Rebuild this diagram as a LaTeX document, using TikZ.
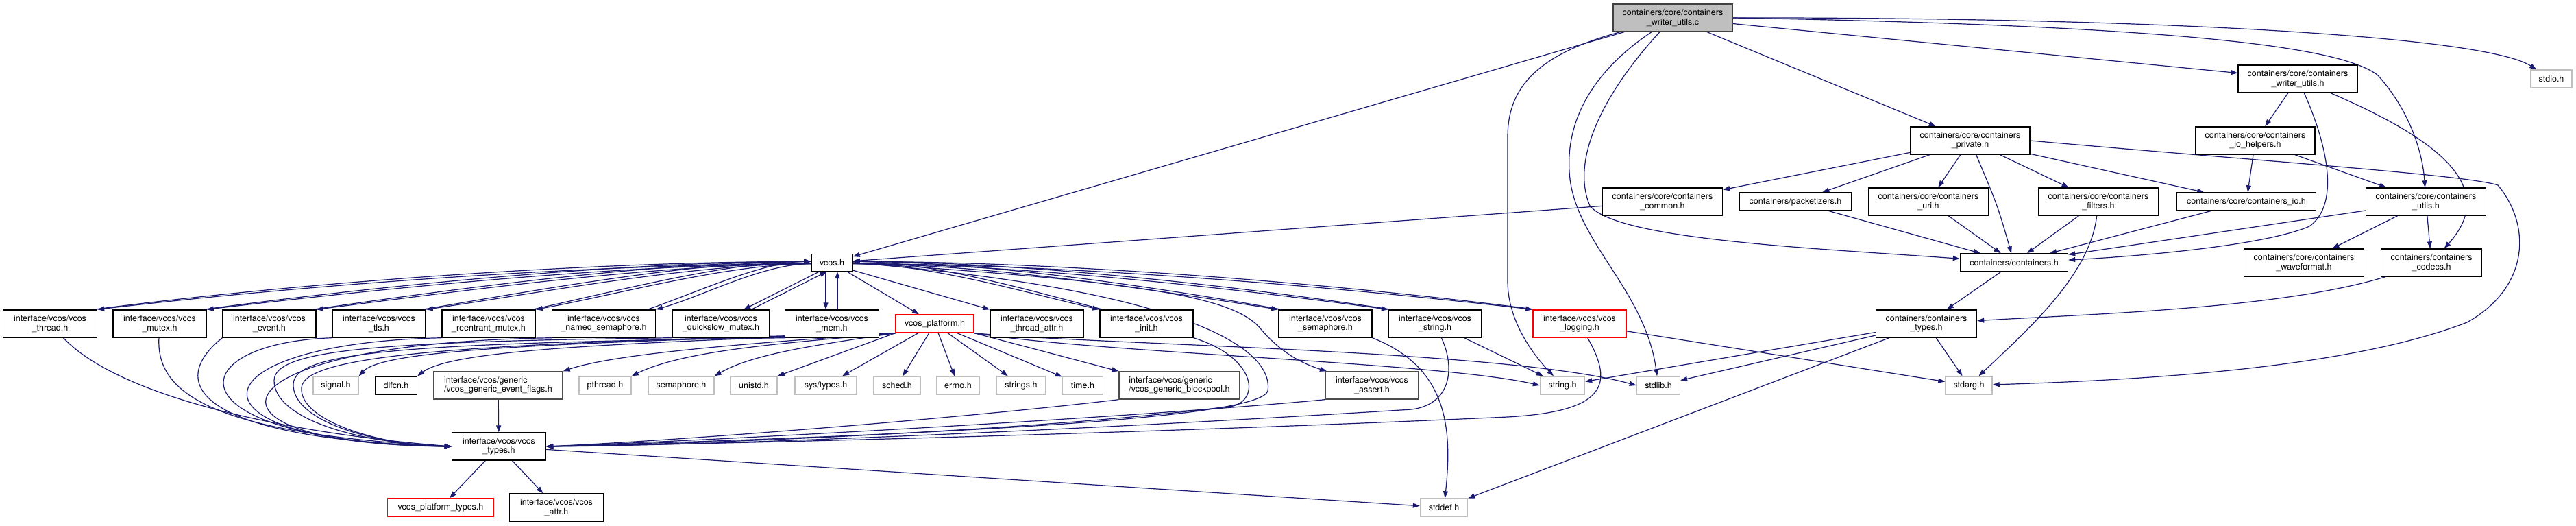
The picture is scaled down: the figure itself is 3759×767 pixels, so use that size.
\documentclass[tikz,border=0pt]{standalone}
\usepackage{fontspec}
\setmainfont{TeX Gyre Heros}
\usetikzlibrary{arrows.meta}
\definecolor{eb}{HTML}{191970}
\definecolor{gb}{HTML}{BFBFBF}
\pgfdeclarelayer{bg}
\pgfsetlayers{bg,main}
\begin{document}
\begin{tikzpicture}[x=1pt,y=-1pt,
  nb/.style={draw=black, fill=white, line width=1.4pt, align=center, inner sep=0pt,
    font=\fontsize{12.5}{13.5}\selectfont, minimum height=40pt},
  onel/.style={minimum height=26pt},
  wd/.style={minimum width=#1pt},
  gbx/.style={nb, draw=gb, onel},
  rbx/.style={nb, draw=red},
  rootbx/.style={nb, fill=gb, draw=black!75},
  lft/.style={align=left, draw=black!70},
  edg/.style={draw=eb, line width=1.2pt, -{Triangle[length=10pt,width=7pt]}}]
\useasboundingbox (0,0) rectangle (3759,767);
% ---------- containers part ----------
\node[rootbx, wd=174] (C) at (2441,26) {containers/core/containers\\\_writer\_utils.c};
\node[nb, wd=174] (WH) at (3353,115) {containers/core/containers\\\_writer\_utils.h};
\node[gbx, wd=60] (stdio) at (3723,115) {stdio.h};
\node[nb, wd=174] (priv) at (2875,205) {containers/core/containers\\\_private.h};
\node[nb, wd=174] (ioh) at (3291,205) {containers/core/containers\\\_io\_helpers.h};
\node[nb, wd=175] (common) at (2426,294) {containers/core/containers\\\_common.h};
\node[nb, wd=164, onel] (pkt) at (2620,294) {containers/packetizers.h};
\node[nb, wd=175] (uri) at (2814,294) {containers/core/containers\\\_uri.h};
\node[nb, wd=175] (filt) at (3062,294) {containers/core/containers\\\_filters.h};
\node[nb, wd=203, onel] (cio) at (3278,294) {containers/core/containers\_io.h};
\node[nb, wd=175] (utils) at (3540,294) {containers/core/containers\\\_utils.h};
\node[nb, wd=157, onel] (cont) at (2939,383) {containers/containers.h};
\node[nb, wd=175] (wave) at (3362,383) {containers/core/containers\\\_waveformat.h};
\node[nb, wd=147] (codecs) at (3548,383) {containers/containers\\\_codecs.h};
\node[nb, wd=147] (ctypes) at (2811,472) {containers/containers\\\_types.h};
\node[rbx, wd=136] (log) at (2305,472) {interface/vcos/vcos\\\_logging.h};
\node[gbx, wd=65] (string) at (2280,562) {string.h};
\node[gbx, wd=63] (stdlib) at (2420,562) {stdlib.h};
\node[gbx, wd=68] (stdarg) at (2873,562) {stdarg.h};
% ---------- vcos part ----------
\node[nb, wd=60, minimum height=25pt] (vcos) at (1214,383) {vcos.h};
\node[nb, wd=137] (thr) at (73,472) {interface/vcos/vcos\\\_thread.h};
\node[nb, wd=136] (mtx) at (233,472) {interface/vcos/vcos\\\_mutex.h};
\node[nb, wd=136] (evt) at (393,472) {interface/vcos/vcos\\\_event.h};
\node[nb, wd=136] (tls) at (553,472) {interface/vcos/vcos\\\_tls.h};
\node[nb, wd=136] (rmtx) at (713,472) {interface/vcos/vcos\\\_reentrant\_mutex.h};
\node[nb, wd=151] (nsem) at (881,472) {interface/vcos/vcos\\\_named\_semaphore.h};
\node[nb, wd=142] (qmtx) at (1052,472) {interface/vcos/vcos\\\_quickslow\_mutex.h};
\node[nb, wd=137] (mem) at (1214,472) {interface/vcos/vcos\\\_mem.h};
\node[rbx, wd=114, onel] (plat) at (1364,472) {vcos\_platform.h};
\node[nb, wd=136] (tattr) at (1513,472) {interface/vcos/vcos\\\_thread\_attr.h};
\node[nb, wd=136] (init) at (1673,472) {interface/vcos/vcos\\\_init.h};
\node[nb, wd=136] (vsem) at (1934,472) {interface/vcos/vcos\\\_semaphore.h};
\node[nb, wd=135] (vstr) at (2094,472) {interface/vcos/vcos\\\_string.h};
\node[gbx, wd=66] (signal) at (490,562) {signal.h};
\node[nb, wd=61, onel] (dlfcn) at (578,562) {dlfcn.h};
\node[nb, lft, wd=188] (evf) at (727,562) {interface/vcos/generic\\/vcos\_generic\_event\_flags.h};
\node[gbx, wd=76] (pth) at (883,562) {pthread.h};
\node[gbx, wd=96] (sem) at (994,562) {semaphore.h};
\node[gbx, wd=68] (unistd) at (1100,562) {unistd.h};
\node[gbx, wd=90] (systypes) at (1205,562) {sys/types.h};
\node[gbx, wd=68] (sched) at (1309,562) {sched.h};
\node[gbx, wd=62] (errno) at (1398,562) {errno.h};
\node[gbx, wd=71] (strings) at (1490,562) {strings.h};
\node[gbx, wd=59] (time) at (1580,562) {time.h};
\node[nb, lft, wd=176] (bpool) at (1721,562) {interface/vcos/generic\\/vcos\_generic\_blockpool.h};
\node[nb, draw=black!70, wd=136] (assert) at (2002,562) {interface/vcos/vcos\\\_assert.h};
\node[nb, wd=137] (vtypes) at (728,651) {interface/vcos/vcos\\\_types.h};
\node[rbx, wd=155, onel] (ptypes) at (643,740) {vcos\_platform\_types.h};
\node[nb, wd=137] (attr) at (812,740) {interface/vcos/vcos\\\_attr.h};
\node[gbx, wd=69] (stddef) at (2107,740) {stddef.h};
\begin{pgfonlayer}{bg}
\fill[white] (0,0) rectangle (3759,767);
% ---------- edges: root ----------
\draw[edg] (C) -- (vcos);
\draw[edg] (C) .. controls (2240,80) and (2200,130) .. (2200,200) -- (2200,410) .. controls (2200,470) and (2240,520) .. (string);
\draw[edg] (C) .. controls (2330,100) and (2285,170) .. (2290,250) .. controls (2295,350) and (2400,420) .. (stdlib);
\draw[edg] (C) .. controls (2345,130) and (2290,230) .. (2320,300) .. controls (2360,350) and (2650,362) .. (cont);
\draw[edg] (C) -- (priv);
\draw[edg] (C) -- (WH);
\draw[edg] (C.east) .. controls (3100,25) and (3620,50) .. (stdio);
\draw[edg] (C.east) .. controls (3200,38) and (3420,70) .. (3470,110) .. controls (3515,160) and (3535,220) .. (utils);
% writer_utils.h
\draw[edg] (WH) -- (ioh);
\draw[edg] (WH) .. controls (3400,220) and (3412,300) .. (3370,330) .. controls (3300,360) and (3100,375) .. (cont);
\draw[edg] (WH) .. controls (3550,200) and (3650,270) .. (codecs);
\draw[edg] (ioh) -- (cio);
\draw[edg] (ioh) -- (utils);
% private.h
\draw[edg] (priv) -- (common);
\draw[edg] (priv) -- (pkt);
\draw[edg] (priv) -- (uri);
\draw[edg] (priv) -- (filt);
\draw[edg] (priv) -- (cio);
\draw[edg] (priv) .. controls (2915,300) .. (cont);
\draw[edg] (priv.east) .. controls (3300,235) and (3600,255) .. (3645,270) .. controls (3695,330) and (3690,420) .. (3600,470) .. controls (3420,540) and (3100,555) .. (stdarg);
\draw[edg] (common) -- (vcos);
\draw[edg] (pkt) -- (cont);
\draw[edg] (uri) -- (cont);
\draw[edg] (filt) -- (cont);
\draw[edg] (cio) -- (cont);
\draw[edg] (filt) .. controls (3050,400) and (2960,480) .. (stdarg);
\draw[edg] (utils) -- (cont);
\draw[edg] (utils) -- (wave);
\draw[edg] (utils) -- (codecs);
\draw[edg] (codecs) .. controls (3330,450) and (3050,458) .. (ctypes);
\draw[edg] (cont) -- (ctypes);
\draw[edg] (ctypes) -- (string);
\draw[edg] (ctypes) -- (stdlib);
\draw[edg] (ctypes) -- (stdarg);
\draw[edg] (ctypes) -- (stddef);
% logging
\draw[edg] (log) -- (stdarg);
\draw[edg] (log) .. controls (2355,560) and (2345,600) .. (2200,608) .. controls (1600,635) and (1000,648) .. (vtypes.east);
% ---------- vcos pairs ----------
\foreach \n/\a/\b/\c/\d in {thr/-312/312/-37/-41,mtx/-265/265/-32/-36,evt/-217/217/-28/-32,tls/-170/170/-25/-29,rmtx/-120/120/-22/-26,nsem/-70/70/-20/-24}{
  \draw[edg] (vcos.183) .. controls +(\a,0) and +(\b,\c) .. (\n.north east);
  \draw[edg] (\n.18) .. controls +(\b,\d) and +(\a,0) .. (vcos.177);
}
\draw[edg] (vcos.215) -- (qmtx.32);
\draw[edg] (qmtx.25) -- (vcos.240);
\draw[edg] ([xshift=-9pt]vcos.south) -- ([xshift=-9pt]mem.north);
\draw[edg] ([xshift=8pt]mem.north) -- ([xshift=8pt]vcos.south);
\draw[edg] (vcos) -- (plat);
\draw[edg] (vcos.-20) -- (tattr.north west);
\foreach \n/\a/\b/\c/\d in {init/110/-110/-25/-29,vsem/190/-190/-30/-34,vstr/235/-235/-32/-36,log/300/-300/-35/-39}{
  \draw[edg] (vcos.-3) .. controls +(\a,0) and +(\b,\c) .. (\n.north west);
  \draw[edg] (\n.162) .. controls +(\b,\d) and +(\a,0) .. (vcos.3);
}
\draw[edg] (vcos.east) .. controls (1650,410) and (1800,430) .. (1840,480) .. controls (1870,515) and (1900,530) .. (assert);
\draw[edg] (vcos.east) .. controls (1700,420) and (1860,500) .. (1850,570) .. controls (1840,605) and (1500,630) .. (vtypes.east);
% ---------- headers to vcos_types ----------
\draw[edg] (thr) .. controls (170,575) and (400,630) .. (vtypes.west);
\draw[edg] (mtx) .. controls (228,570) and (300,632) .. (vtypes.west);
\draw[edg] (evt.south west) .. controls (240,560) and (290,640) .. (vtypes.west);
\draw[edg] (tls.south west) .. controls (260,500) and (240,642) .. (vtypes.west);
\draw[edg] (rmtx.south west) .. controls (280,500) and (250,646) .. (vtypes.west);
\draw[edg] (nsem.south west) .. controls (300,500) and (260,648) .. (vtypes.west);
\draw[edg] (qmtx.south west) .. controls (550,498) and (400,510) .. (400,555) .. controls (400,610) and (520,646) .. (vtypes.west);
\draw[edg] (mem.south west) .. controls (600,500) and (430,512) .. (428,560) .. controls (426,612) and (540,648) .. (vtypes.west);
\draw[edg] (plat.south west) .. controls (700,500) and (445,515) .. (440,565) .. controls (436,615) and (560,650) .. (vtypes.west);
\draw[edg] (evf) -- (vtypes);
\draw[edg] (bpool.south west) .. controls (1400,610) and (1000,642) .. (vtypes.east);
\draw[edg] (assert.south west) .. controls (1700,605) and (1100,640) .. (vtypes.east);
\draw[edg] (init.south east) .. controls (1830,520) and (1840,580) .. (1800,592) .. controls (1500,630) and (1000,648) .. (vtypes.east);
\draw[edg] (vstr) .. controls (2125,540) and (2115,590) .. (2060,597) .. controls (1500,632) and (1000,650) .. (vtypes.east);
\draw[edg] (vstr) -- (string);
\draw[edg] (vsem.south east) .. controls (2110,535) and (2120,620) .. (stddef);
% ---------- platform ----------
\draw[edg] (plat.south west) .. controls (800,500) and (560,510) .. (signal.north east);
\draw[edg] (plat.south west) .. controls (900,500) and (660,510) .. (dlfcn.north east);
\draw[edg] (plat.south west) .. controls (1100,500) and (900,515) .. (evf.north east);
\draw[edg] (plat.south west) .. controls (1150,500) and (1000,510) .. (pth.north east);
\draw[edg] (plat.south west) .. controls (1200,502) and (1100,515) .. (sem.north east);
\draw[edg] (plat.south west) -- (unistd.north east);
\draw[edg] (plat) -- (systypes);
\draw[edg] (plat) -- (sched);
\draw[edg] (plat) -- (errno);
\draw[edg] (plat) -- (strings);
\draw[edg] (plat) -- (time);
\draw[edg] (plat.south east) -- (bpool.north west);
\draw[edg] (plat.south east) .. controls (1600,515) and (2100,528) .. (string.west);
\draw[edg] (plat.south east) .. controls (1600,503) and (2200,510) .. (stdlib.west);
% ---------- vcos_types ----------
\draw[edg] (vtypes) -- (ptypes);
\draw[edg] (vtypes) -- (attr);
\draw[edg] (vtypes) -- (stddef);
\end{pgfonlayer}
\end{tikzpicture}
\end{document}
